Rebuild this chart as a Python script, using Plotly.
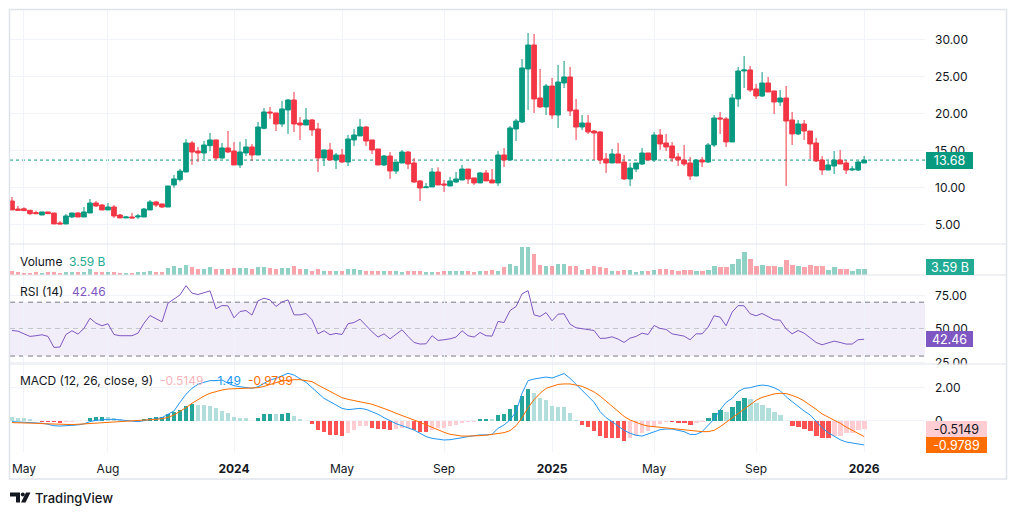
import plotly.graph_objects as go
import pandas as pd

# ---------------- data ----------------
bar_dates = pd.date_range("2023-04-17", periods=143, freq="7D")  # weekly bars

opens = [8.15,7.07,7.10,6.90,6.58,6.26,6.67,6.53,5.18,5.05,
         5.99,6.53,5.99,6.53,7.88,7.61,6.94,7.34,6.26,5.86,
         5.99,5.99,5.99,6.94,8.02,7.75,7.34,10.32,11.04,12.07,
         15.99,14.90,14.64,15.63,16.40,13.96,15.32,14.90,13.02,14.64,
         15.45,14.37,17.97,20.18,20.05,18.56,20.45,21.80,18.69,18.42,
         19.10,17.88,13.96,15.05,13.69,14.37,13.42,16.40,16.94,18.15,
         16.40,15.18,13.02,14.23,12.20,13.29,14.77,13.29,10.86,9.95,
         10.05,12.07,10.45,10.18,10.72,10.99,12.47,11.27,10.59,11.94,
         10.99,10.59,14.37,13.69,17.88,18.83,25.99,29.23,22.07,20.86,
         23.69,19.77,24.10,24.91,20.45,18.15,18.69,17.61,17.48,13.83,
         13.29,14.50,13.42,11.13,12.47,13.15,14.64,13.69,17.07,15.99,
         15.59,14.10,13.69,13.29,11.53,13.69,13.42,15.72,19.37,19.24,
         16.13,21.94,25.72,25.86,23.29,22.34,24.10,23.02,21.53,22.07,
         19.10,17.21,18.56,17.61,15.99,13.69,12.34,12.88,13.69,13.29,
         12.34,12.34,13.29]

highs = [8.69,7.48,7.30,6.90,6.85,6.67,6.67,6.53,5.45,6.40,
         6.53,6.67,7.34,8.42,8.15,7.75,7.88,7.61,6.40,6.13,
         6.53,6.40,7.21,8.28,8.15,7.75,10.18,11.67,12.50,16.53,
         16.26,15.45,16.26,17.34,16.40,15.99,17.61,16.13,16.17,16.53,
         15.86,18.83,20.72,20.86,20.05,21.67,21.94,22.88,19.50,20.72,
         19.24,18.69,15.05,15.99,14.64,15.18,17.07,17.88,19.24,18.29,
         16.40,15.18,14.37,14.77,13.42,15.05,14.90,13.96,10.99,10.59,
         12.61,12.70,10.99,11.40,12.07,13.02,12.47,11.27,12.07,12.34,
         12.47,14.90,15.32,18.29,19.24,27.34,30.86,30.72,25.99,23.96,
         24.77,26.53,27.07,26.26,21.94,19.77,19.77,17.75,17.61,14.64,
         15.18,15.99,14.37,13.29,13.29,15.32,14.64,17.48,17.88,17.21,
         16.13,14.64,15.72,14.10,13.83,14.10,15.99,19.77,20.18,19.50,
         22.61,26.26,27.75,26.40,23.96,25.58,24.91,23.02,23.15,23.69,
         20.18,19.10,19.10,17.61,16.67,14.23,13.56,14.90,15.05,13.69,
         12.88,13.56,14.23]

lows = [6.94,6.80,6.85,6.26,6.44,6.26,6.44,5.05,5.05,5.05,
        5.86,5.99,5.99,6.53,7.34,6.94,6.94,5.86,5.86,5.86,
        5.86,5.72,5.99,6.94,7.34,7.21,7.34,9.95,10.77,12.07,
        13.02,13.42,13.83,14.90,13.69,13.83,14.64,13.02,12.61,14.23,
        13.56,14.37,17.83,19.24,17.61,18.15,17.21,17.48,16.40,18.42,
        16.94,12.07,12.88,13.69,12.47,13.29,12.88,15.59,16.94,15.59,
        14.50,13.02,12.88,11.13,11.80,13.29,12.47,10.59,8.15,9.91,
        10.05,10.32,9.37,10.18,10.59,10.99,10.45,10.32,10.59,10.86,
        10.59,10.18,12.74,13.69,16.26,18.69,20.45,20.05,20.72,19.77,
        19.24,18.02,23.42,19.64,16.40,17.75,17.21,13.69,13.15,11.94,
        13.29,13.29,10.99,10.18,12.07,13.02,13.69,13.42,15.05,14.90,
        13.42,12.88,12.88,10.99,11.53,12.74,13.29,15.45,17.21,15.45,
        16.13,20.86,23.42,22.88,21.94,22.20,22.88,19.91,20.99,10.18,
        15.72,17.07,16.40,13.83,13.42,11.67,12.34,11.80,13.15,11.80,
        12.20,12.20,13.29]

closes = [6.94,6.89,6.85,6.44,6.44,6.67,6.44,5.05,5.05,6.13,
          6.53,5.99,6.67,7.88,7.48,6.94,7.34,6.13,5.86,5.99,
          5.86,6.13,7.07,8.02,7.61,7.34,10.18,11.13,12.20,15.99,
          14.77,14.64,15.72,16.40,13.96,15.32,14.77,13.02,14.77,15.45,
          14.37,18.15,20.18,20.05,18.56,20.59,21.80,18.56,18.42,19.10,
          17.75,13.96,15.05,13.69,14.37,13.42,16.53,17.07,18.15,16.26,
          15.05,13.02,14.23,12.20,13.42,14.77,13.15,10.72,9.91,10.05,
          12.07,10.32,10.32,10.86,11.13,12.47,11.13,10.59,11.94,10.86,
          10.59,14.37,13.69,18.02,18.96,26.13,29.23,21.94,20.86,23.69,
          19.77,24.23,24.91,20.32,18.15,18.69,17.48,17.34,13.69,13.29,
          14.50,13.29,11.13,12.61,13.29,14.64,13.69,17.07,15.86,15.45,
          13.96,13.69,13.15,11.53,13.69,13.42,15.72,19.37,19.24,16.13,
          22.07,25.72,25.86,23.15,22.34,24.10,22.88,21.53,22.07,18.96,
          17.21,18.56,17.61,15.86,13.56,12.34,13.02,13.69,13.15,12.34,
          12.47,13.42,13.68]

volume_b = [2.4,1.6,1.4,1.4,1.6,1.4,1.6,1.8,1.4,1.8,
            1.8,1.6,2.0,3.6,1.8,1.6,1.6,1.6,1.4,1.2,
            1.4,1.6,2.0,2.2,1.8,1.8,4.0,5.6,4.0,6.0,
            5.0,3.6,3.6,4.6,3.6,3.6,3.6,4.0,4.0,4.0,
            3.6,4.6,4.6,4.0,3.6,4.4,4.4,5.4,3.6,3.4,
            2.6,3.6,2.6,2.6,2.6,2.6,3.6,3.6,3.2,2.6,
            2.6,2.6,2.6,2.6,2.4,2.0,2.4,2.6,2.4,2.0,
            2.0,2.0,2.2,2.2,2.4,2.4,2.6,2.0,2.2,2.2,
            2.8,2.4,5.0,6.6,5.4,16.6,16.6,12.6,6.0,5.4,
            5.4,6.6,6.6,5.4,5.4,3.0,3.4,5.4,5.0,4.4,
            2.4,2.6,3.0,3.0,2.0,2.6,2.6,3.0,3.6,3.6,
            3.0,2.6,3.0,3.0,2.6,2.6,3.0,5.6,5.0,4.6,
            6.6,9.6,14.0,9.6,5.6,6.0,5.4,5.4,5.0,9.0,
            6.0,5.6,5.0,6.0,5.6,5.4,3.0,4.6,3.6,3.6,
            2.6,3.6,3.59]

rsi = [49.0,48.5,46.5,44.6,45.1,45.8,44.6,36.4,36.7,46.0,
       48.8,46.3,50.5,58.1,54.4,52.5,54.0,46.0,45.1,45.1,
       45.1,47.0,54.4,60.1,57.7,55.4,69.3,72.2,75.4,82.3,
       76.7,75.7,77.2,78.4,65.1,67.5,67.3,58.4,63.1,63.8,
       60.4,71.0,73.0,71.7,66.8,70.2,71.7,60.6,60.6,61.6,
       56.9,46.5,48.8,45.8,46.8,46.0,54.0,54.9,57.4,52.5,
       48.0,44.1,46.5,42.8,46.0,49.5,44.6,40.1,38.9,39.1,
       45.1,41.6,42.1,42.8,44.1,48.8,45.1,44.1,47.5,45.1,
       44.8,55.7,54.9,63.8,66.8,76.2,78.6,60.6,59.4,62.3,
       56.2,61.1,61.4,53.7,51.0,50.5,50.0,49.0,43.1,43.3,
       44.3,42.6,40.1,43.3,44.6,47.0,46.0,52.7,50.5,49.8,
       46.5,45.8,44.8,42.1,46.5,46.5,51.5,59.9,58.9,52.5,
       62.6,67.5,67.3,61.4,59.9,61.6,59.1,56.9,56.7,50.2,
       46.5,49.0,47.0,43.8,40.1,38.4,39.6,41.1,40.1,38.9,
       38.9,42.1,42.46]

macd = [-0.07,-0.09,-0.09,-0.11,-0.13,-0.17,-0.23,-0.32,-0.34,-0.32,
        -0.29,-0.27,-0.21,-0.07,0.01,0.05,0.07,0.07,0.03,-0.03,
        -0.07,-0.07,-0.01,0.05,0.11,0.17,0.38,0.58,1.11,1.60,
        1.96,2.21,2.33,2.43,2.43,2.47,2.27,2.12,2.06,2.00,
        1.96,2.06,2.27,2.47,2.57,2.71,2.88,2.77,2.57,2.33,
        2.00,1.66,1.35,1.15,0.95,0.74,0.66,0.70,0.74,0.68,
        0.54,0.38,0.17,-0.03,-0.19,-0.32,-0.44,-0.58,-0.78,-0.98,
        -1.09,-1.13,-1.19,-1.17,-1.13,-1.05,-0.98,-0.92,-0.88,-0.88,
        -0.84,-0.48,-0.27,0.03,0.54,1.66,2.43,2.53,2.57,2.65,
        2.59,2.71,2.86,2.57,2.21,1.84,1.47,1.11,0.54,0.17,
        -0.07,-0.34,-0.60,-0.78,-0.90,-0.95,-0.82,-0.66,-0.56,-0.52,
        -0.52,-0.60,-0.68,-0.85,-0.85,-0.68,-0.32,0.09,0.64,1.11,
        1.35,1.76,1.96,2.00,2.10,2.16,2.12,2.00,1.82,1.45,
        1.15,0.84,0.58,0.34,-0.07,-0.44,-0.74,-0.97,-1.17,-1.31,
        -1.39,-1.43,-1.49]

signal = [-0.13,-0.13,-0.15,-0.17,-0.17,-0.19,-0.21,-0.23,-0.25,-0.25,
          -0.25,-0.23,-0.21,-0.17,-0.13,-0.11,-0.09,-0.07,-0.07,-0.05,
          -0.05,-0.03,-0.01,0.03,0.07,0.11,0.19,0.34,0.54,0.78,
          1.05,1.29,1.49,1.66,1.78,1.86,1.92,1.94,1.94,1.94,
          1.96,2.00,2.08,2.21,2.31,2.41,2.47,2.49,2.49,2.45,
          2.37,2.16,1.96,1.76,1.55,1.39,1.29,1.21,1.15,1.07,
          0.99,0.86,0.74,0.60,0.44,0.29,0.17,0.03,-0.11,-0.27,
          -0.42,-0.58,-0.72,-0.84,-0.90,-0.95,-0.95,-0.95,-0.92,-0.90,
          -0.86,-0.82,-0.74,-0.62,-0.32,0.17,0.78,1.27,1.66,1.96,
          2.10,2.20,2.23,2.23,2.16,2.08,1.92,1.74,1.49,1.19,
          0.86,0.54,0.25,0.03,-0.13,-0.25,-0.34,-0.38,-0.42,-0.44,
          -0.48,-0.52,-0.56,-0.62,-0.66,-0.68,-0.68,-0.60,-0.38,-0.11,
          0.17,0.46,0.74,0.99,1.23,1.41,1.53,1.62,1.66,1.64,
          1.53,1.39,1.19,0.95,0.68,0.40,0.22,0.03,-0.17,-0.40,
          -0.60,-0.80,-0.98]

hist = [0.19,0.17,0.13,0.07,-0.01,-0.07,-0.08,-0.11,-0.17,-0.11,
        -0.07,-0.05,-0.03,0.13,0.19,0.21,0.19,0.13,0.07,-0.02,
        -0.03,-0.04,0.09,0.13,0.19,0.23,0.38,0.50,0.64,0.86,
        0.99,0.95,0.94,0.88,0.74,0.60,0.44,0.19,0.17,0.13,
        -0.01,0.13,0.38,0.42,0.38,0.40,0.44,0.29,0.07,-0.03,
        -0.21,-0.58,-0.68,-0.88,-0.89,-0.95,-0.74,-0.58,-0.34,-0.33,
        -0.48,-0.50,-0.54,-0.58,-0.50,-0.46,-0.44,-0.60,-0.68,-0.70,
        -0.58,-0.48,-0.44,-0.34,-0.27,-0.17,-0.11,-0.07,0.07,0.08,
        0.07,0.34,0.38,0.70,0.95,1.51,1.92,1.66,1.35,1.25,
        0.88,0.84,0.84,0.48,0.03,-0.27,-0.42,-0.62,-0.95,-1.09,
        -1.09,-1.09,-1.23,-1.09,-0.95,-0.74,-0.62,-0.38,-0.23,-0.10,
        -0.12,-0.14,-0.18,-0.27,-0.17,-0.11,0.13,0.44,0.64,0.54,
        0.80,1.19,1.39,1.29,1.05,0.95,0.78,0.54,0.34,-0.03,
        -0.32,-0.42,-0.54,-0.62,-0.95,-1.09,-1.09,-0.95,-0.92,-0.78,
        -0.74,-0.58,-0.5149]

tick_dates = ["2023-05-01", "2023-08-07", "2024-01-01", "2024-05-06", "2024-09-02",
              "2025-01-06", "2025-05-05", "2025-09-01", "2026-01-05"]
tick_labels = ["May", "Aug", "<b>2024</b>", "May", "Sep", "<b>2025</b>", "May", "Sep", "<b>2026</b>"]
price_ticks = [5, 10, 15, 20, 25, 30]
rsi_ticks = [25, 50, 75]
rsi_levels = [70, 50, 30]
macd_ticks = [0, 2]
macd_tick_labels = ["0", "2.00"]

last_price = 13.68
last_volume_text = "3.59\u00a0B"
last_rsi = 42.46
last_hist_text, last_macd_text, last_signal_text = "-0.5149", "-1.49", "-0.9789"

for arr in (opens, highs, lows, closes, volume_b, rsi, macd, signal, hist):
    assert len(arr) == len(bar_dates), len(arr)

# ---------------- styling ----------------
GREEN = "#089981"
RED = "#F23645"
TXT = "#131722"
GRID = "#F0F3FA"
FONT = "Inter, Roboto, sans-serif"

W, H = 1016, 515
L, R, T, B = 10, 925, 10, 452   # plot area in pixels


def px(x):
    return (x - L) / (R - L)


def py(y):
    return (B - y) / (B - T)


vol_colors = ["rgba(8,153,129,0.45)" if c >= o else "rgba(242,54,69,0.45)"
              for o, c in zip(opens, closes)]
hist_colors = []
for i, h in enumerate(hist):
    prev = hist[i - 1] if i > 0 else h
    if h >= 0:
        hist_colors.append("#26A69A" if h > prev else "#B2DFDB")
    else:
        hist_colors.append("#FFCDD2" if h > prev else "#FF5252")

bar_w = 0.8 * 7 * 24 * 3600 * 1000

fig = go.Figure()
fig.add_trace(go.Candlestick(
    x=bar_dates, open=opens, high=highs, low=lows, close=closes,
    increasing=dict(line=dict(color=GREEN, width=1), fillcolor=GREEN),
    decreasing=dict(line=dict(color=RED, width=1), fillcolor=RED),
    whiskerwidth=0, xaxis="x", yaxis="y", hoverinfo="skip", showlegend=False))
fig.add_trace(go.Bar(x=bar_dates, y=volume_b, width=bar_w, marker=dict(color=vol_colors, line=dict(width=0)),
                     xaxis="x", yaxis="y2", hoverinfo="skip", showlegend=False))
fig.add_trace(go.Scatter(x=bar_dates, y=rsi, mode="lines", line=dict(color="#7E57C2", width=1),
                         xaxis="x", yaxis="y3", hoverinfo="skip", showlegend=False))
fig.add_trace(go.Bar(x=bar_dates, y=hist, width=bar_w, marker=dict(color=hist_colors, line=dict(width=0)),
                     xaxis="x", yaxis="y4", hoverinfo="skip", showlegend=False))
fig.add_trace(go.Scatter(x=bar_dates, y=macd, mode="lines", line=dict(color="#2196F3", width=1),
                         xaxis="x", yaxis="y4", hoverinfo="skip", showlegend=False))
fig.add_trace(go.Scatter(x=bar_dates, y=signal, mode="lines", line=dict(color="#FF6D00", width=1),
                         xaxis="x", yaxis="y4", hoverinfo="skip", showlegend=False))

x0 = bar_dates[0] - pd.Timedelta(hours=55)
x1 = bar_dates[0] + pd.Timedelta(days=1065)

yax_common = dict(side="right", showline=False, zeroline=False, gridcolor=GRID, gridwidth=1,
                  tickfont=dict(family=FONT, size=12, color=TXT), ticks="", ticklabelstandoff=9,
                  fixedrange=True)

fig.update_layout(
    width=W, height=H,
    margin=dict(l=L, r=W - R, t=T, b=H - B, pad=0),
    paper_bgcolor="white", plot_bgcolor="white",
    boxgap=0.22, boxgroupgap=0, bargap=0,
    font=dict(family=FONT, color=TXT, size=12),
    hovermode=False,
    xaxis=dict(type="date", range=[x0, x1], anchor="y4", tickvals=tick_dates, ticktext=tick_labels,
               showgrid=True, gridcolor=GRID, showline=False, zeroline=False, ticks="",
               tickfont=dict(family=FONT, size=12, color=TXT), ticklabelstandoff=8,
               rangeslider=dict(visible=False), fixedrange=True),
    yaxis=dict(domain=[py(244), 1], range=[2.34, 33.96], tickvals=price_ticks, tickformat=".2f", **yax_common),
    yaxis2=dict(domain=[py(275), py(244)], range=[0, 18.6], showticklabels=False, showgrid=False,
                zeroline=False, showline=False, side="right", fixedrange=True),
    yaxis3=dict(domain=[py(364), py(275)], range=[24.1, 90.2], tickvals=rsi_ticks, tickformat=".2f", **yax_common),
    yaxis4=dict(domain=[0, py(364)], range=[-1.921, 3.445], tickvals=macd_ticks, ticktext=macd_tick_labels,
                **yax_common),
)

shapes = []
# RSI band and levels
shapes.append(dict(type="rect", xref="paper", yref="y3", x0=0, x1=1, y0=30, y1=70,
                   fillcolor="rgba(126,87,194,0.10)", line=dict(width=0), layer="below"))
for lv in rsi_levels:
    shapes.append(dict(type="line", xref="paper", yref="y3", x0=0, x1=1, y0=lv, y1=lv,
                       line=dict(color="#787B86", width=1, dash="5px,4px"), layer="below"))
# last price dotted line
shapes.append(dict(type="line", xref="paper", yref="y", x0=0, x1=1, y0=last_price, y1=last_price,
                   line=dict(color=GREEN, width=1, dash="dot"), layer="below"))
# clip the half-hidden RSI bottom label
shapes.append(dict(type="rect", xref="paper", yref="paper", x0=px(926), x1=px(1004), y0=py(373), y1=py(364.5),
                   fillcolor="white", line=dict(width=0), layer="above"))
# pane separators
for ysep in (244, 275, 364):
    shapes.append(dict(type="line", xref="paper", yref="paper", x0=px(10), x1=px(1006), y0=py(ysep), y1=py(ysep),
                       line=dict(color="#E0E3EB", width=1), layer="above"))
# outer frame
shapes.append(dict(type="rect", xref="paper", yref="paper", x0=px(9.5), x1=px(1006.5), y0=py(479), y1=py(9.5),
                   line=dict(color="#E0E3EB", width=1.5), fillcolor="rgba(0,0,0,0)", layer="above"))


def path(points):
    return "M " + " L ".join(f"{px(x):.5f},{py(y):.5f}" for x, y in points) + " Z"


# TradingView logo
shapes.append(dict(type="path", xref="paper", yref="paper",
                   path=path([(10, 492.5), (20, 492.5), (20, 502.5), (16, 502.5), (16, 496.5), (10, 496.5)]),
                   fillcolor=TXT, line=dict(width=0), layer="above"))
shapes.append(dict(type="circle", xref="paper", yref="paper", x0=px(20.8), x1=px(24.8), y0=py(496.5), y1=py(492.5),
                   fillcolor=TXT, line=dict(width=0), layer="above"))
shapes.append(dict(type="path", xref="paper", yref="paper",
                   path=path([(26, 492.5), (30.5, 492.5), (25.5, 502.5), (21, 502.5)]),
                   fillcolor=TXT, line=dict(width=0), layer="above"))
fig.update_layout(shapes=shapes)

ann = []


def text(x, y, s, color=TXT, size=12, weight=None):
    ann.append(dict(xref="paper", yref="paper", x=px(x), y=py(y), text=s, showarrow=False,
                    xanchor="left", yanchor="middle",
                    font=dict(family=FONT, size=size, color=color, weight=weight)))


text(18, 261.5, "Volume")
text(67, 261.5, last_volume_text, color="#22AB94")
text(18, 291.5, "RSI (14)")
text(70, 291.5, f"{last_rsi:.2f}", color="#7E57C2")
text(18, 380.5, "MACD (12, 26, close, 9)")
text(158, 380.5, last_hist_text, color="#F8B4BA")
text(210, 380.5, last_macd_text, color="#2196F3")
text(246, 380.5, last_signal_text, color="#FF6D00")
text(33, 498, "TradingView", size=13, weight=500)


def axis_box(y, yref, s, bg, fg, w, h):
    ann.append(dict(xref="paper", yref=yref, x=px(926), y=y, text=s, showarrow=False,
                    xanchor="left", yanchor="middle", width=w, height=h, align="center",
                    bgcolor=bg, borderpad=0, borderwidth=0,
                    font=dict(family=FONT, size=12.5, color=fg)))


axis_box(last_price, "y", f"{last_price:.2f}", GREEN, "white", 47, 17)
axis_box(py(266.5), "paper", last_volume_text, "#22AB94", "white", 48, 16)
axis_box(last_rsi, "y3", f"{last_rsi:.2f}", "#7E57C2", "white", 47, 16)
axis_box(py(428.5), "paper", last_hist_text, "#FFCDD2", TXT, 61, 16)
axis_box(py(444.5), "paper", last_signal_text, "#FF6D00", "white", 61, 16)

fig.update_layout(annotations=ann)

fig.write_html("out.html", include_plotlyjs=True, config={"displayModeBar": False, "staticPlot": True})
